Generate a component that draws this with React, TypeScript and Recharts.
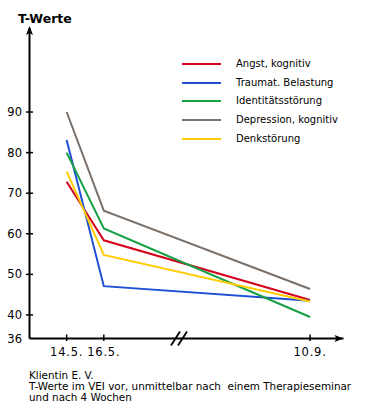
import React from "react";
import { LineChart, Line, XAxis, YAxis, Legend, ReferenceDot } from "recharts";

// ---- data ----
const dates = ["14.5.", "16.5.", "10.9."];
// position of each date on the (broken) time axis
const timeAxisPos = [1, 2, 7.55];
const angst = [72.8, 58.4, 43.7];
const traumat = [83.1, 47.1, 43.5];
const identitaet = [80.0, 61.3, 39.5];
const depression = [90.0, 65.7, 46.4];
const denk = [75.3, 54.8, 43.3];

const seriesNames = [
  "Angst, kognitiv",
  "Traumat. Belastung",
  "Identitätsstörung",
  "Depression, kognitiv",
  "Denkstörung",
];
const seriesKeys = ["angst", "traumat", "identitaet", "depression", "denk"];
const seriesColors = ["#d4001e", "#1f50d4", "#16a043", "#7a716b", "#ffcc00"];

const yTicks = [40, 50, 60, 70, 80, 90];
const yOriginLabel = "36";
const axisBreakPos = 4.05;
const title = "T-Werte";
const footerLines = [
  "Klientin E. V.",
  "T-Werte im VEI vor, unmittelbar nach  einem Therapieseminar",
  "und nach 4 Wochen",
];

const Y_MIN = 34.2;
const Y_MAX = 110.7;
const X_MIN = 0;
const X_MAX = 8.45;

const seriesValues = [angst, traumat, identitaet, depression, denk];
const data = dates.map((d, i) => {
  const row: any = { date: d, pos: timeAxisPos[i] };
  seriesKeys.forEach((k, s) => {
    row[k] = seriesValues[s][i];
  });
  return row;
});

const FONT = "'DejaVu Sans', Verdana, sans-serif";

const YTick = (props: any) => {
  const { x, y, payload } = props;
  const v = payload.value;
  const isOrigin = v === Y_MIN;
  return (
    <g>
      {!isOrigin && (
        <line x1={x - 3.5} x2={x + 3.5} y1={y} y2={y} stroke="#000" strokeWidth={1.5} />
      )}
      <text
        x={x - 7.5}
        y={y}
        textAnchor="end"
        dominantBaseline="central"
        fontSize={11.5}
        fontFamily={FONT}
        fill="#000"
      >
        {isOrigin ? yOriginLabel : String(v)}
      </text>
    </g>
  );
};

const XTick = (props: any) => {
  const { x, y, payload } = props;
  const i = timeAxisPos.indexOf(payload.value);
  return (
    <g>
      <line x1={x} x2={x} y1={y - 4} y2={y + 2.5} stroke="#000" strokeWidth={1.5} />
      <text
        x={x}
        y={y + 13.5}
        textAnchor="middle"
        dominantBaseline="central"
        fontSize={11.5}
        letterSpacing={0.8}
        fontFamily={FONT}
        fill="#000"
      >
        {i >= 0 ? dates[i] : ""}
      </text>
    </g>
  );
};

const LegendContent = (props: any) => {
  const payload: any[] = props.payload || [];
  const items = seriesNames.map((n, i) => {
    const p = payload.find((q) => q.value === n);
    return { name: n, color: p ? p.color : seriesColors[i] };
  });
  return (
    <div style={{ fontFamily: FONT, fontSize: 10, color: "#000" }}>
      {items.map((it) => (
        <div key={it.name} style={{ height: 18.7, display: "flex", alignItems: "center" }}>
          <div style={{ width: 39, height: 2, background: it.color }} />
          <span style={{ marginLeft: 15, whiteSpace: "nowrap", lineHeight: "12px" }}>{it.name}</span>
        </div>
      ))}
    </div>
  );
};

const YArrow = (p: any) => {
  const { cx, cy } = p;
  return (
    <path
      d={`M${cx},${cy - 2} L${cx - 3.5},${cy + 7} L${cx},${cy + 5} L${cx + 3.5},${cy + 7} Z`}
      fill="#000"
    />
  );
};

const XArrow = (p: any) => {
  const { cx, cy } = p;
  return (
    <path
      d={`M${cx},${cy} L${cx - 9},${cy - 3.5} L${cx - 7},${cy} L${cx - 9},${cy + 3.5} Z`}
      fill="#000"
    />
  );
};

const AxisBreak = (p: any) => {
  const { cx, cy } = p;
  return (
    <g stroke="#000" strokeWidth={1.8}>
      <line x1={cx - 9} y1={cy + 7} x2={cx} y2={cy - 7} />
      <line x1={cx - 2} y1={cy + 7} x2={cx + 7} y2={cy - 7} />
    </g>
  );
};

export default function App() {
  return (
    <div
      style={{
        position: "absolute",
        left: 0,
        top: 0,
        width: 370,
        height: 420,
        background: "#fff",
        fontFamily: FONT,
      }}
    >
      <LineChart
        width={370}
        height={420}
        data={data}
        margin={{ top: 28, right: 26.5, bottom: 61.5, left: 0 }}
      >
        <XAxis
          dataKey="pos"
          type="number"
          domain={[X_MIN, X_MAX]}
          ticks={timeAxisPos}
          interval={0}
          height={20}
          tickSize={0}
          tickMargin={0}
          tickLine={false}
          axisLine={{ stroke: "#000", strokeWidth: 2 }}
          tick={<XTick />}
          allowDataOverflow
        />
        <YAxis
          type="number"
          domain={[Y_MIN, Y_MAX]}
          ticks={[Y_MIN, ...yTicks]}
          interval={0}
          width={29.5}
          tickSize={0}
          tickMargin={0}
          tickLine={false}
          axisLine={{ stroke: "#000", strokeWidth: 2 }}
          tick={<YTick />}
          allowDataOverflow
        />
        <Legend
          layout="vertical"
          align="center"
          verticalAlign="middle"
          content={<LegendContent />}
          wrapperStyle={{ position: "absolute", left: 182, top: 54.6, width: 180, height: 94 }}
        />
        {seriesKeys.map((k, i) => (
          <Line
            key={k}
            type="linear"
            dataKey={k}
            name={seriesNames[i]}
            stroke={seriesColors[i]}
            strokeWidth={2}
            dot={false}
            activeDot={false}
            isAnimationActive={false}
          />
        ))}
        <ReferenceDot x={X_MIN} y={Y_MAX} ifOverflow="visible" shape={YArrow} />
        <ReferenceDot x={X_MAX} y={Y_MIN} ifOverflow="visible" shape={XArrow} />
        <ReferenceDot x={axisBreakPos} y={Y_MIN} ifOverflow="visible" shape={AxisBreak} />
      </LineChart>
      <div
        style={{
          position: "absolute",
          left: 18,
          top: 12,
          fontSize: 12.5,
          fontWeight: "bold",
          lineHeight: "14px",
          color: "#000",
          whiteSpace: "nowrap",
        }}
      >
        {title}
      </div>
      <div
        style={{
          position: "absolute",
          left: 29,
          top: 369.5,
          fontSize: 10.4,
          lineHeight: "11.4px",
          color: "#000",
          whiteSpace: "pre",
        }}
      >
        {footerLines.map((l) => (
          <div key={l}>{l}</div>
        ))}
      </div>
    </div>
  );
}
